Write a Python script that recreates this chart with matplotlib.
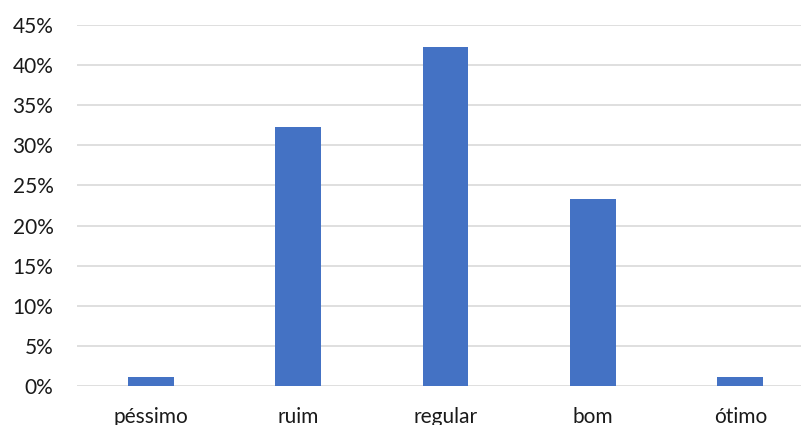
import numpy as np
import matplotlib.pyplot as plt
from matplotlib.ticker import PercentFormatter, MultipleLocator

plt.rcParams['font.family'] = ['Lato', 'DejaVu Sans']

# avaliação das respostas
categorias = ["péssimo", "ruim", "regular", "bom", "ótimo"]
percentuais = [0.011, 0.323, 0.422, 0.233, 0.011]
cor_barra = "#4472C4"
cor_grade = "#D9D9D9"

fig = plt.figure(figsize=(8.01, 4.25), dpi=100)
ax = fig.add_axes([77 / 801, 39 / 425, 737 / 801, 361 / 425])

x = np.arange(len(categorias))
ax.bar(x, percentuais, width=0.31, color=cor_barra, zorder=3)

ax.set_xlim(-0.5, len(categorias) - 0.5)
ax.set_ylim(0, 0.45)
ax.yaxis.set_major_locator(MultipleLocator(0.05))
ax.yaxis.set_major_formatter(PercentFormatter(1.0, decimals=0))
ax.grid(axis="y", color=cor_grade, linewidth=1.2, zorder=0)

ax.set_xticks(x)
ax.set_xticklabels(categorias)
for s in ax.spines.values():
    s.set_visible(False)
ax.tick_params(axis="both", length=0, labelsize=15, labelcolor="#1a1a1a")
ax.tick_params(axis="y", pad=17)
ax.tick_params(axis="x", pad=15)

fig.savefig("out.png", dpi=100)
